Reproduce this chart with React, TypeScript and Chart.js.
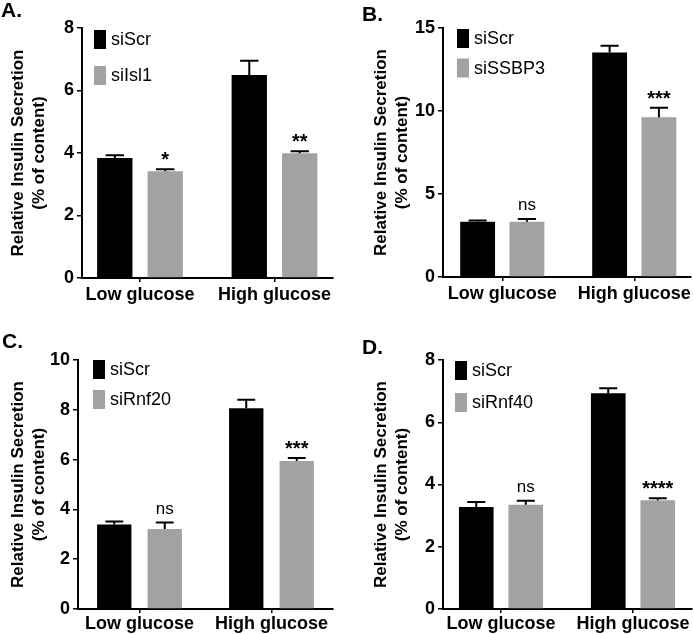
import React, { useEffect, useRef } from "react";
import { Chart, registerables } from "chart.js";

Chart.register(...registerables);

// ---------- data ----------
const categories = ["Low glucose", "High glucose"];
const controlName = "siScr";
const yTitle = ["Relative Insulin Secretion", "(% of content)"];

// Panel A
const kdNameA = "siIsl1";
const siScrA = [3.84, 6.5];
const siScrSemA = [0.09, 0.45];
const kdA = [3.42, 3.99];
const kdSemA = [0.06, 0.07];
const sigA = ["*", "**"];
const yTicksA = [0, 2, 4, 6, 8];

// Panel B
const kdNameB = "siSSBP3";
const siScrB = [3.33, 13.53];
const siScrSemB = [0.08, 0.4];
const kdB = [3.33, 9.62];
const kdSemB = [0.16, 0.58];
const sigB = ["ns", "***"];
const yTicksB = [0, 5, 10, 15];

// Panel C
const kdNameC = "siRnf20";
const siScrC = [3.39, 8.06];
const siScrSemC = [0.12, 0.34];
const kdC = [3.21, 5.94];
const kdSemC = [0.26, 0.12];
const sigC = ["ns", "***"];
const yTicksC = [0, 2, 4, 6, 8, 10];

// Panel D
const kdNameD = "siRnf40";
const siScrD = [3.28, 6.93];
const siScrSemD = [0.16, 0.16];
const kdD = [3.35, 3.49];
const kdSemD = [0.13, 0.07];
const sigD = ["ns", "****"];
const yTicksD = [0, 2, 4, 6, 8];

// ---------- layout / style ----------
const SX = 1; // horizontal stretch factor
const FONT = "'Liberation Sans', Arial, Helvetica, sans-serif";
const BLACK = "#000000";
const GRAY = "#a2a2a2";

type PanelDef = {
  letter: string;
  kdName: string;
  ctrl: number[];
  ctrlSem: number[];
  kd: number[];
  kdSem: number[];
  sig: string[];
  yTicks: number[];
  box: { x: number; y: number; w: number; h: number };
  area: { l: number; r: number; t: number; b: number };
  c0: number;
  c1: number;
  catPct: number;
  barPct: number;
  titleX: number;
  xPad: number;
  legend: { dx: number; dy: number; gap: number };
  letterPos: { x: number; y: number };
};

const panels: PanelDef[] = [
  {
    letter: "A.", kdName: kdNameA, ctrl: siScrA, ctrlSem: siScrSemA, kd: kdA, kdSem: kdSemA, sig: sigA, yTicks: yTicksA,
    box: { x: 0, y: 0, w: 346, h: 317 }, area: { l: 82, r: 333, t: 28, b: 278 },
    c0: 140, c1: 274.5, catPct: 0.75, barPct: 0.7, titleX: 18, xPad: 2,
    legend: { dx: 12, dy: 2, gap: 36 }, letterPos: { x: 1, y: 17 },
  },
  {
    letter: "B.", kdName: kdNameB, ctrl: siScrB, ctrlSem: siScrSemB, kd: kdB, kdSem: kdSemB, sig: sigB, yTicks: yTicksB,
    box: { x: 346, y: 0, w: 347, h: 317 }, area: { l: 97, r: 346, t: 28, b: 277 },
    c0: 156.5, c1: 289, catPct: 0.747, barPct: 0.707, titleX: 35, xPad: 2,
    legend: { dx: 14, dy: 1, gap: 29.5 }, letterPos: { x: 16, y: 21 },
  },
  {
    letter: "C.", kdName: kdNameC, ctrl: siScrC, ctrlSem: siScrSemC, kd: kdC, kdSem: kdSemC, sig: sigC, yTicks: yTicksC,
    box: { x: 0, y: 317, w: 346, h: 317 }, area: { l: 78, r: 333, t: 43, b: 292 },
    c0: 139.5, c1: 271.5, catPct: 0.765, barPct: 0.68, titleX: 18, xPad: 0,
    legend: { dx: 15, dy: 0, gap: 30 }, letterPos: { x: 2, y: 31 },
  },
  {
    letter: "D.", kdName: kdNameD, ctrl: siScrD, ctrlSem: siScrSemD, kd: kdD, kdSem: kdSemD, sig: sigD, yTicks: yTicksD,
    box: { x: 346, y: 317, w: 347, h: 317 }, area: { l: 97, r: 346, t: 43, b: 292 },
    c0: 155, c1: 287, catPct: 0.75, barPct: 0.7, titleX: 35, xPad: 0,
    legend: { dx: 12, dy: 1, gap: 32 }, letterPos: { x: 16, y: 37 },
  },
];

function makePlugins(p: PanelDef) {
  const errorBars = {
    id: "errorBars",
    afterDatasetsDraw(chart: any) {
      const ctx = chart.ctx;
      const ys = chart.scales.y;
      chart.data.datasets.forEach((ds: any, di: number) => {
        const meta = chart.getDatasetMeta(di);
        meta.data.forEach((bar: any, i: number) => {
          const v = ds.data[i].y;
          const e = ds.sem[i];
          const top = ys.getPixelForValue(v + e);
          const half = bar.width * 0.26;
          ctx.save();
          ctx.strokeStyle = BLACK;
          ctx.lineWidth = 2;
          ctx.beginPath();
          ctx.moveTo(bar.x, bar.y);
          ctx.lineTo(bar.x, top);
          ctx.moveTo(bar.x - half, top);
          ctx.lineTo(bar.x + half, top);
          ctx.stroke();
          if (ds.sig) {
            const s = ds.sig[i];
            ctx.fillStyle = BLACK;
            ctx.textAlign = "center";
            ctx.textBaseline = "alphabetic";
            if (s === "ns") {
              ctx.font = `17px ${FONT}`;
              ctx.fillText(s, bar.x, top - 9);
            } else {
              ctx.font = `bold 20px ${FONT}`;
              ctx.fillText(s, bar.x, top - 3);
            }
          }
          ctx.restore();
        });
      });
    },
  };
  const decor = {
    id: "decor",
    afterDraw(chart: any) {
      const ctx = chart.ctx;
      const ca = chart.chartArea;
      ctx.save();
      ctx.fillStyle = BLACK;
      ctx.font = `bold 21px ${FONT}`;
      ctx.textAlign = "left";
      ctx.textBaseline = "alphabetic";
      ctx.fillText(p.letter, p.letterPos.x / SX, p.letterPos.y);
      const x0 = ca.left + p.legend.dx / SX;
      const sw = 12 / SX;
      const sh = 19;
      chart.data.datasets.forEach((ds: any, i: number) => {
        const y0 = ca.top + p.legend.dy + i * p.legend.gap;
        ctx.fillStyle = ds.backgroundColor;
        ctx.fillRect(x0, y0, sw, sh);
        ctx.fillStyle = BLACK;
        ctx.font = `18px ${FONT}`;
        ctx.textBaseline = "middle";
        ctx.fillText(ds.label, x0 + sw + 5 / SX, y0 + sh / 2 + 1);
      });
      ctx.restore();
    },
  };
  return [errorBars, decor];
}

function Panel({ p }: { p: PanelDef }) {
  const ref = useRef<HTMLCanvasElement | null>(null);
  useEffect(() => {
    const canvas = ref.current;
    if (!canvas) return;
    const unit = p.c1 - p.c0;
    const xMin = (p.area.l - p.c0) / unit;
    const xMax = 1 + (p.area.r - p.c1) / unit;
    const lh = 1.25;
    const titleSize = 17;
    const chart = new Chart(canvas, {
      type: "bar",
      data: {
        datasets: [
          {
            label: controlName,
            data: p.ctrl.map((v, i) => ({ x: i, y: v })),
            backgroundColor: BLACK,
            borderWidth: 0,
            sem: p.ctrlSem,
          } as any,
          {
            label: p.kdName,
            data: p.kd.map((v, i) => ({ x: i, y: v })),
            backgroundColor: GRAY,
            borderWidth: 0,
            sem: p.kdSem,
            sig: p.sig,
          } as any,
        ],
      },
      options: {
        animation: false,
        responsive: false,
        devicePixelRatio: 1,
        layout: { padding: { left: 0, top: p.area.t, right: (p.box.w - p.area.r) / SX, bottom: 0 } },
        datasets: { bar: { categoryPercentage: p.catPct, barPercentage: p.barPct } },
        plugins: { legend: { display: false }, tooltip: { enabled: false }, title: { display: false } },
        scales: {
          x: {
            type: "linear",
            offset: false,
            min: xMin,
            max: xMax,
            afterBuildTicks: (s: any) => {
              s.ticks = categories.map((_, i) => ({ value: i }));
            },
            afterFit: (s: any) => {
              s.height = p.box.h - p.area.b;
            },
            ticks: {
              callback: (v: any) => categories[v] ?? "",
              font: { family: FONT, size: 18, weight: "bold" },
              color: BLACK,
              padding: p.xPad,
              maxRotation: 0,
              autoSkip: false,
            },
            grid: { offset: false, drawOnChartArea: false, drawTicks: true, tickLength: 4, color: BLACK, lineWidth: 1.5 },
            border: { display: true, color: BLACK, width: 2 },
          },
          y: {
            min: p.yTicks[0],
            max: p.yTicks[p.yTicks.length - 1],
            afterBuildTicks: (s: any) => {
              s.ticks = p.yTicks.map((v) => ({ value: v }));
            },
            afterFit: (s: any) => {
              s.width = p.area.l / SX;
            },
            ticks: {
              font: { family: FONT, size: 18, weight: "bold" },
              color: BLACK,
              padding: 3,
            },
            grid: { drawOnChartArea: false, drawTicks: true, tickLength: 5, color: BLACK, lineWidth: 1.5 },
            border: { display: true, color: BLACK, width: 2 },
            title: {
              display: true,
              text: yTitle,
              color: BLACK,
              font: { family: FONT, size: titleSize, weight: "bold", lineHeight: lh },
              padding: { top: p.titleX / SX - (titleSize * lh) / 2, bottom: 0 },
            },
          },
        },
      } as any,
      plugins: makePlugins(p) as any,
    });
    return () => chart.destroy();
  }, [p]);
  return (
    <canvas
      ref={ref}
      width={p.box.w / SX}
      height={p.box.h}
      style={{ position: "absolute", left: p.box.x / SX, top: p.box.y, width: p.box.w / SX, height: p.box.h }}
    />
  );
}

export default function App() {
  return (
    <div style={{ position: "fixed", left: 0, top: 0, width: 693, height: 634, background: "#fff", overflow: "hidden" }}>
      <div
        style={{
          position: "absolute",
          left: 0,
          top: 0,
          width: 693 / SX,
          height: 634,
          transform: `scaleX(${SX})`,
          transformOrigin: "0 0",
        }}
      >
        {panels.map((p) => (
          <Panel key={p.letter} p={p} />
        ))}
      </div>
    </div>
  );
}
